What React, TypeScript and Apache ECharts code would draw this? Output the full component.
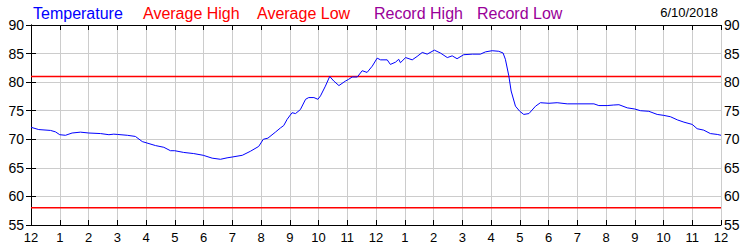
import React, { useEffect, useRef } from "react";
import * as echarts from "echarts";

// Hours since midnight (0–24) and temperature readings (°F)
const hours = [
  0.0, 0.27, 0.68, 0.85, 1.0, 1.2, 1.43, 1.72, 2.01, 2.42, 2.71, 2.88, 3.0, 3.35, 3.63, 3.87,
  4.0, 4.33, 4.62, 4.85, 5.0, 5.31, 5.66, 5.99, 6.3, 6.59, 6.82, 7.0, 7.35, 7.63, 7.92, 8.08,
  8.24, 8.5, 8.68, 8.79, 8.91, 9.08, 9.2, 9.37, 9.55, 9.66, 9.84, 9.98, 10.07, 10.24, 10.39,
  10.53, 10.71, 10.94, 11.05, 11.17, 11.35, 11.52, 11.69, 11.87, 12.04, 12.16, 12.39, 12.5,
  12.68, 12.79, 12.85, 13.03, 13.26, 13.43, 13.61, 13.78, 14.03, 14.24, 14.48, 14.65, 14.82,
  15.05, 15.35, 15.63, 15.81, 16.04, 16.27, 16.42, 16.5, 16.62, 16.7, 16.85, 17.0, 17.14,
  17.32, 17.55, 17.72, 18.01, 18.3, 18.65, 19.0, 19.58, 19.75, 20.04, 20.27, 20.45, 20.74,
  21.0, 21.2, 21.49, 21.78, 21.99, 22.24, 22.48, 22.71, 23.0, 23.17, 23.4, 23.63, 23.87, 24.0,
];
const temps = [
  72.1, 71.7, 71.55, 71.3, 70.8, 70.7, 71.1, 71.25, 71.1, 71.0, 70.8, 70.9, 70.85, 70.7, 70.5, 69.6,
  69.4, 68.9, 68.6, 68.0, 68.0, 67.7, 67.5, 67.2, 66.7, 66.5, 66.75, 66.9, 67.2, 67.9, 68.75, 70.0,
  70.2, 71.25, 72.0, 72.4, 73.5, 74.65, 74.5, 75.2, 77.0, 77.3, 77.3, 77.0, 77.6, 79.3, 81.0,
  80.2, 79.4, 80.2, 80.5, 80.9, 80.9, 82.0, 81.7, 82.8, 84.2, 83.9, 83.9, 83.1,
  83.5, 84.0, 83.4, 84.3, 83.9, 84.5, 85.2, 84.9, 85.6, 85.1, 84.3, 84.6, 84.1,
  84.8, 84.9, 84.9, 85.3, 85.5, 85.4, 85.1, 84.0, 81.1, 78.45, 75.8, 74.9, 74.35,
  74.5, 75.8, 76.4, 76.3, 76.4, 76.2, 76.2, 76.2, 75.9, 75.9, 76.0, 76.05, 75.5,
  75.3, 75.0, 74.9, 74.35, 74.2, 73.95, 73.4, 73.0, 72.6, 71.85, 71.6, 71.0, 70.85, 70.7,
];
const avgHigh = 81;
const avgLow = 58;
const legendNames = ["Temperature", "Average High", "Average Low", "Record High", "Record Low"];
const legendColors = ["#0000FF", "#FF0000", "#FF0000", "#990099", "#990099"];
const legendX = [33, 143, 257, 374, 477];
const dateLabel = "6/10/2018";
const yMin = 55;
const yMax = 90;
const yStep = 5;

export default function App() {
  const ref = useRef<HTMLDivElement>(null);
  useEffect(() => {
    if (!ref.current) return;
    const chart = echarts.init(ref.current, null, { renderer: "svg" });
    const font = "Arial, 'Liberation Sans', sans-serif";
    const hourFmt = (v: number) => {
      const h = Math.round(v) % 12;
      return h === 0 ? "12" : String(h);
    };
    const xCommon = {
      type: "value" as const,
      min: 0,
      max: 24,
      interval: 1,
      axisLine: { show: true, onZero: false, lineStyle: { color: "#000", width: 1 } },
      axisTick: { show: true, inside: true, length: 5, lineStyle: { color: "#000" } },
    };
    const yCommon = {
      type: "value" as const,
      min: yMin,
      max: yMax,
      interval: yStep,
      axisLine: { show: true, lineStyle: { color: "#000", width: 1 } },
      axisTick: { show: true, inside: true, length: 5, lineStyle: { color: "#000" } },
    };
    chart.setOption({
      animation: false,
      backgroundColor: "#fff",
      textStyle: { fontFamily: font },
      grid: { left: 31, right: 29, top: 25, bottom: 25, containLabel: false },
      graphic: [
        ...legendNames.map((n, i) => ({
          type: "text",
          x: legendX[i],
          y: 13,
          style: {
            text: n,
            fill: legendColors[i],
            font: `16px ${font}`,
            textVerticalAlign: "middle",
          },
        })),
        {
          type: "text",
          x: 718,
          y: 12,
          style: {
            text: dateLabel,
            fill: "#000",
            font: `13px ${font}`,
            textAlign: "right",
            textVerticalAlign: "middle",
          },
        },
      ],
      xAxis: [
        {
          ...xCommon,
          position: "bottom",
          axisLabel: { formatter: hourFmt, color: "#000", fontSize: 13, margin: 6, fontFamily: font },
          splitLine: { show: true, lineStyle: { color: "#cccccc", width: 1 } },
        },
        {
          ...xCommon,
          position: "top",
          axisLabel: { show: false },
          splitLine: { show: false },
        },
      ],
      yAxis: [
        {
          ...yCommon,
          position: "left",
          axisLabel: { color: "#000", fontSize: 14, margin: 7, fontFamily: font },
          splitLine: { show: true, lineStyle: { color: "#cccccc", width: 1 } },
        },
        {
          ...yCommon,
          position: "right",
          axisLabel: { color: "#000", fontSize: 14, margin: 3, fontFamily: font },
          splitLine: { show: false },
        },
      ],
      series: [
        {
          name: "Temperature",
          type: "line",
          data: hours.map((h, i) => [h, temps[i]]),
          showSymbol: false,
          lineStyle: { color: "#0000FF", width: 1 },
          z: 5,
        },
        {
          name: "Average High",
          type: "line",
          data: [[0, avgHigh], [24, avgHigh]],
          showSymbol: false,
          lineStyle: { color: "#FF0000", width: 1.5 },
          z: 4,
        },
        {
          name: "Average Low",
          type: "line",
          data: [[0, avgLow], [24, avgLow]],
          showSymbol: false,
          lineStyle: { color: "#FF0000", width: 1.5 },
          z: 4,
        },
      ],
    });
    return () => chart.dispose();
  }, []);
  return (
    <div
      ref={ref}
      style={{ position: "absolute", left: 0, top: 0, width: 750, height: 250, background: "#fff" }}
    />
  );
}
